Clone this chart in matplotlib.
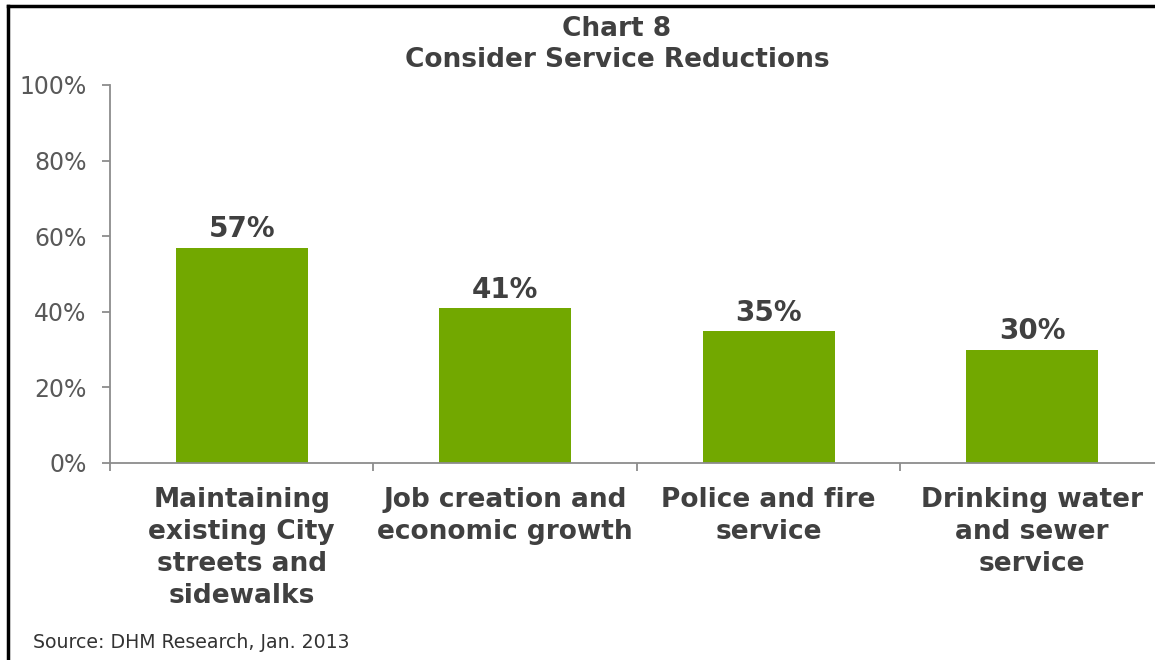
import matplotlib
matplotlib.use("Agg")
import matplotlib.pyplot as plt
from matplotlib.lines import Line2D

categories = ["Maintaining\nexisting City\nstreets and\nsidewalks",
              "Job creation and\neconomic growth",
              "Police and fire\nservice",
              "Drinking water\nand sewer\nservice"]
values = [57, 41, 35, 30]
yticks = [0, 20, 40, 60, 80, 100]
ytick_labels = ["0%", "20%", "40%", "60%", "80%", "100%"]
title_text = "Chart 8\nConsider Service Reductions"
source_text = "Source: DHM Research, Jan. 2013"

W, H = 1155, 660
plt.rcParams['font.family'] = ['DejaVu Sans']
fig = plt.figure(figsize=(W/100, H/100), dpi=100)

def fx(px): return px / W
def fy(py): return 1 - py / H

ax = fig.add_axes([fx(110), fy(463), fx(1164) - fx(110), fy(85) - fy(463)])
bar_color = "#72A800"
x = list(range(len(values)))
ax.bar(x, values, width=0.5, color=bar_color)
ax.set_xlim(-0.5, len(values) - 0.5)
ax.set_ylim(0, 100)

for s in ["top", "right"]:
    ax.spines[s].set_visible(False)
for s in ["left", "bottom"]:
    ax.spines[s].set_color("#8C8C8C")
    ax.spines[s].set_linewidth(1.3)

ax.set_yticks(yticks)
ax.set_yticklabels(ytick_labels, fontsize=17, color="#595959")
ax.tick_params(axis="y", length=6, width=1.3, color="#8C8C8C", pad=11)
ax.set_xticks([i - 0.5 for i in range(len(values) + 1)])
ax.set_xticklabels([])
ax.tick_params(axis="x", length=6, width=1.3, color="#8C8C8C")

for i, v in enumerate(values):
    ax.annotate(f"{v}%", (i, v), xytext=(0, 3), textcoords="offset points",
                ha="center", va="bottom", fontsize=20, fontweight="bold",
                color="#404040")

# category labels
for i, c in enumerate(categories):
    xd = ax.transData.transform((i, 0))[0]
    fig.text(xd / W, fy(487), c, ha="center", va="top", fontsize=19,
             fontweight="bold", color="#404040", linespacing=1.3)

fig.text(fx(617), fy(16), title_text, ha="center", va="top", fontsize=19,
         fontweight="bold", color="#404040", linespacing=1.25)

fig.text(fx(33), fy(648), source_text, ha="left", va="baseline", fontsize=13.6,
         color="#333333")

# border (top and left)
fig.add_artist(Line2D([fx(8), 1.0], [fy(6), fy(6)], transform=fig.transFigure,
                      color="black", linewidth=2.5))
fig.add_artist(Line2D([fx(8), fx(8)], [0.0, fy(6)], transform=fig.transFigure,
                      color="black", linewidth=2.5))

fig.savefig("out.png", dpi=100)
